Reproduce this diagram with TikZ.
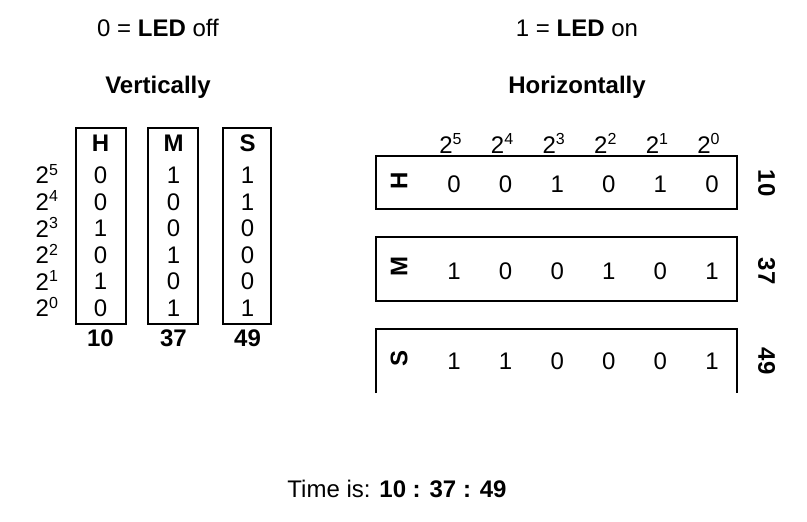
\documentclass[tikz,border=0pt]{standalone}
\usepackage{fontspec}
\setmainfont{Liberation Sans}
\usepackage{tikz}
\tikzstyle{cellbox} = [draw, line width=1.1pt, inner sep=0pt]
\tikzstyle{pow} = [text height=8.6pt, text depth=0pt]
\tikzstyle{sideup} = [rotate=90]
\tikzstyle{sidedown} = [rotate=-90]

\begin{document}
\begin{tikzpicture}[x=0.5pt, y=-0.5pt, node distance=13.3pt, every node/.style={font=\fontsize{12}{14}\selectfont}]
	\useasboundingbox (0,0) rectangle (807,521);

	\node (off) at (158,28) {0 = \textbf{LED} off};
	\node (on) [node distance=209.5pt, right of=off] {1 = \textbf{LED} on};
	\node (vert) at (158,87) {\textbf{Vertically}};
	\node (horiz) [node distance=209.5pt, right of=vert] {\textbf{Horizontally}};

	% vertically
	\node (vH) at (100.5,143.5) {\textbf{H}};
	\node (vH5) [below of=vH, yshift=-2.6pt] {0};
	\node (vH4) [below of=vH5] {0};
	\node (vH3) [below of=vH4] {1};
	\node (vH2) [below of=vH3] {0};
	\node (vH1) [below of=vH2] {1};
	\node (vH0) [below of=vH1] {0};

	\node (vM) [node distance=36.5pt, right of=vH] {\textbf{M}};
	\node (vM5) [below of=vM, yshift=-2.6pt] {1};
	\node (vM4) [below of=vM5] {0};
	\node (vM3) [below of=vM4] {0};
	\node (vM2) [below of=vM3] {1};
	\node (vM1) [below of=vM2] {0};
	\node (vM0) [below of=vM1] {1};

	\node (vS) [node distance=37pt, right of=vM] {\textbf{S}};
	\node (vS5) [below of=vS, yshift=-2.6pt] {1};
	\node (vS4) [below of=vS5] {1};
	\node (vS3) [below of=vS4] {0};
	\node (vS2) [below of=vS3] {0};
	\node (vS1) [below of=vS2] {0};
	\node (vS0) [below of=vS1] {1};

	\node (r5) [node distance=17.25pt, left of=vH5, pow, anchor=east] {2\textsuperscript{5}};
	\node (r4) [node distance=17.25pt, left of=vH4, pow, anchor=east] {2\textsuperscript{4}};
	\node (r3) [node distance=17.25pt, left of=vH3, pow, anchor=east] {2\textsuperscript{3}};
	\node (r2) [node distance=17.25pt, left of=vH2, pow, anchor=east] {2\textsuperscript{2}};
	\node (r1) [node distance=17.25pt, left of=vH1, pow, anchor=east] {2\textsuperscript{1}};
	\node (r0) [node distance=17.25pt, left of=vH0, pow, anchor=east] {2\textsuperscript{0}};

	\node (sumH) [node distance=15pt, below of=vH0] {\textbf{10}};
	\node (sumM) [node distance=15pt, below of=vM0] {\textbf{37}};
	\node (sumS) [node distance=15pt, below of=vS0] {\textbf{49}};

	\node (colH) [cellbox, minimum width=25pt, minimum height=97.9pt] at (100.7,226.2) {};
	\node (colM) [cellbox, minimum width=25pt, minimum height=97.9pt] at (173.3,226.2) {};
	\node (colS) [cellbox, minimum width=24pt, minimum height=97.9pt] at (246.7,226.2) {};

	% horizontally
	\begin{scope}[node distance=25.8pt]
		\node (hH5) at (454,184) {0};
		\node (hH4) [right of=hH5] {0};
		\node (hH3) [right of=hH4] {1};
		\node (hH2) [right of=hH3] {0};
		\node (hH1) [right of=hH2] {1};
		\node (hH0) [right of=hH1] {0};

		\node (hM5) at (454,271) {1};
		\node (hM4) [right of=hM5] {0};
		\node (hM3) [right of=hM4] {0};
		\node (hM2) [right of=hM3] {1};
		\node (hM1) [right of=hM2] {0};
		\node (hM0) [right of=hM1] {1};

		\node (hS5) at (454,361.7) {1};
		\node (hS4) [right of=hS5] {1};
		\node (hS3) [right of=hS4] {0};
		\node (hS2) [right of=hS3] {0};
		\node (hS1) [right of=hS2] {0};
		\node (hS0) [right of=hS1] {1};

		\node (p5) [node distance=19.5pt, above of=hH5, xshift=-1.5pt, pow] {2\textsuperscript{5}};
		\node (p4) [right of=p5, pow] {2\textsuperscript{4}};
		\node (p3) [right of=p4, pow] {2\textsuperscript{3}};
		\node (p2) [right of=p3, pow] {2\textsuperscript{2}};
		\node (p1) [right of=p2, pow] {2\textsuperscript{1}};
		\node (p0) [right of=p1, pow] {2\textsuperscript{0}};
	\end{scope}

	\node (hH) [sideup] at (399,181) {\textbf{H}};
	\node (hM) [sideup] at (399,266) {\textbf{M}};
	\node (hS) [sideup] at (399,358) {\textbf{S}};
	\node (nH) [sidedown] at (766.7,183) {\textbf{10}};
	\node (nM) [sidedown] at (766.7,271) {\textbf{37}};
	\node (nS) [sidedown] at (766.7,361) {\textbf{49}};

	\node (rowH) [cellbox, minimum width=180.8pt, minimum height=26.65pt] at (556.5,182.65) {};
	\node (rowM) [cellbox, minimum width=180.8pt, minimum height=31.7pt] at (556.5,269) {};
	\coordinate (sbl) at (375.7,393);
	\coordinate (stl) at (375.7,329.3);
	\coordinate (str) at (737.3,329.3);
	\coordinate (sbr) at (737.3,393);
	\draw [line width=1.1pt] (sbl) -- (stl) -- (str) -- (sbr);

	\node (time) at (397,489) {Time is: \textbf{10 : 37 : 49}};
\end{tikzpicture}
\end{document}
